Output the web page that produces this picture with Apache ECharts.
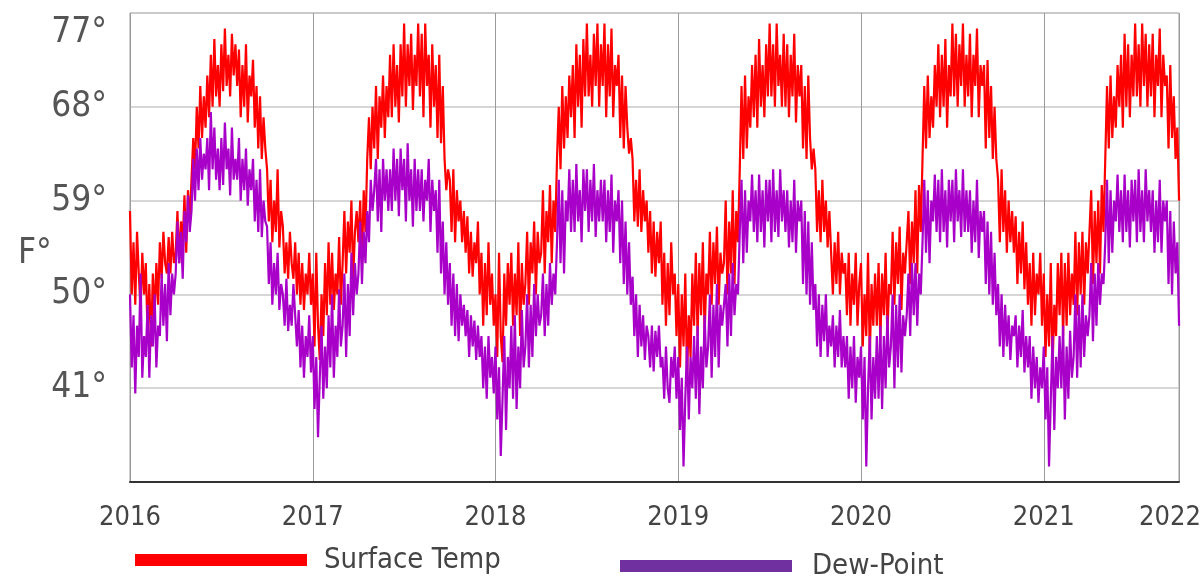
<!DOCTYPE html>
<html>
<head>
<meta charset="utf-8">
<script src="https://cdn.jsdelivr.net/npm/echarts@6/dist/echarts.min.js"></script>
<style>
html,body{margin:0;padding:0;background:#fff;}
#chart{width:1203px;height:579px;}
</style>
</head>
<body>
<div id="chart"></div>
<script>
// Readings (°F) from 2016-01-01, 104 readings per year (about every 3.5 days)
var startYear = 2016;
var perYear = 104;

var surfaceTemp = [
  // 2016
  58,50,55,49,56,52,48.5,54,50,  53,46,51,45,52,48,53,49,  55,51.5,56,53,52,55.5,52,56,53,  54,58,53,57,55,59.5,54,60,57,
  61,65,62,68,64,70,65,69,66,  71,67,73,68,74.5,69,72,68,  74,69.5,75.5,70,73,69,75,71,74,  70,73.5,67,72,68,74,66.5,71,69,
  72.5,66,70,64,69,63,67,64,  62,57,61,55,59,56,62,54.5,58,  56.5,52,55,51.5,56,53,51.5,55,  50,54,49,53,48.5,52,50,54,49,
  // 2017
  52,45,54,47,43.7,50,46,53,48,  55,49,54,48.5,52,50,55.5,49,  53,58,52,57,54,59,51.5,56,58,  55,59,53,60,56,63,67,62,68,
  64,70,63,69,66,71,65,70,67,  73,67,74,68,72,66.5,74,69,  76,68,74,70,75,67.7,73,70,76,  69,75,67,76,70,73,66,74,68,
  72,65,73,64.5,70,63,60,62,  61,56,62,55,60,57,59,55,58,  54,57.5,52,56,51.7,55,53,57,  50,54,47,53,48,55,49,52,47,
  // 2018
  50,44,54,46,43.5,52,47,53,49,  54,47,52,48,55,46,53,49,  51,56,49,55,52,57,50,56,53,  54,60,52,58,55,60.5,53,59,56,
  63,68,62,70,64,69,65,71,67,  72,65,74,68,73,66,74.5,69,  76,69,73,68,75,70,76,68,74,  70,76,67,74,69,75.5,67,72,70,
  73,65,71,64,70,66,63.5,65,  63,57,61,56.5,62,56,60,57,59,  54,58,52,57,51.7,56,53,57,  49,54,47,53,48,55,50,52,46,
  // 2019
  51,43,50,45,52,42,48,44,52,  47,54,46,53,48,55,46,52,  50,56,49,55,51,56.5,49,54,52,  53,59,50,57,52,60,51,58,55,
  62,70,63,71,64,69,66,72,67,  73,66,74.5,68,72,67,74,69,  76,69,74,68,76,70,73,68,75,  68,74,67,73,69,75,66.5,72,69,
  72,64,70,63,71,65,62,64,  62,56,60,55,61,56,59,54.5,58,  54,50,55,51,56,50,54,52,  53,48,54,47,52,49,54,47,51,
  // 2020
  53,45,50,46,54,44,51,47,52,  47,53,45.5,52,48,54,46,51,  50,56,49,55,51,56.5,48.5,54,52,  52,58,51,57,53,60,52,60.5,56,
  63,70,64,71,65,69,66,72,68,  74,67,73,68,74.5,66,72,69,  76,69,75,68,74,70,76,68,73,  69,75,67,73,70,75.5,67,72,70,
  72,64,72.5,65,70,63,68,63,  61,55,62,56,60,54,59,55,58,  54,57.5,51,56,52,57,50.5,55,  49,53,47,54,48,52,50,54,47,
  // 2021 (to end of September)
  52,44,50,45,53,43,49,46,53,  48,54,46,53,47,54,48,52,  49,56,48,55,50,56,49,55,52,  52,60,51,58,53,59,52,60.5,56,
  63,70,64,71,65,69,66,72,68,  73,66,75,68,74,67,73,69,  76,69,74,68,76,70,75,68,74,  69,75,67,73,70,75.5,67,73,70,
  71,64,72,65,69,63,66,59
];

var dewPoint = [
  // 2016
  50,43,48,40.5,47,44,52,42,46,  44,49,42,48,45,50,43,47,  46,52,47,51,45.5,53,48,52,50,  52,57,53,56,51.5,58,55,59.5,56,
  58,63,59,64,60,65,61,63.5,62,  65,60,67.5,62,66,61,64,60,  65,60.5,66.5,62,64,59.5,66,61,63,  61,65,59,63,60,64,58.5,62,60,
  63,57,61,56,62,55.5,59,57,  56.5,51,55,49,53,50,54,48.5,51,  50,47,51.5,46.5,49,47,51,48,  45,48.5,43,47,42,46,44,48,42.5,
  // 2017
  46,39,44,36.3,42,47,40,45,41,  48,43,50,42,47,44,50.5,45,  47,52,44,51,46,54,48,53,50,  52,57,51,56,53,58,55,61,58,
  60,63,57,62,56,63,59,62,58,  62,58,64,59,63,57.5,64,60,  63,57,64.5,59,62,56.5,63,58,62,  58,62,57,61,59,63,56,61,58,
  60,54,61,52,57,50,55,49,  53,47,52,46,51,45.5,50,47,49,  46,48.5,44,48,45,47.5,43.7,47,  44,46,41,45,40,46,42,44,40.5,
  // 2018
  45,38,43,34.5,40,46,37,44,41,  47,40,48,39,45,41,48.5,43,  45,50,43,49,44,51,46,50,47,  48,52,46,51,47,53,49,52,50,
  55,61,53,60,52,59,57,62,56,  61,56,62.5,57,60,55,62,58,  62,56,61,57,62.5,55.5,60,57,61,  57,61,55,60,56,61.5,54,59,57,
  60,53,59,51,57,50,55,49,  51.7,46,50,44,49,45,48,43.7,47,  46,43,47,42.6,46.5,44,47,43,  44,40,45,41,39.6,44,42,45,40,
  // 2019
  44,37,42,33.5,40,45,38,44,41,  46,40,47,38.5,45,41,48,43,  45,50,42,49,44,51,43,49,47,  47,51,45,52,46,53,48,51,50,
  56,61,53,60,54,59,57,61.5,56,  60,55,61.5,56,60,54.5,61,57,  61,55,62,56,60,55.5,62,57,60,  56,60,54.5,59,55,61,54,59,57,
  59,51,58,50,57,49,55,48.5,  51,45,50,44,49,45.5,50,44,47,  45,48,43,47,44,48.5,43,46,  43,46,40,45,41,46,39.6,44,42,
  // 2020
  45,38,44,33.5,41,46,38,44,40,  46,40,47,39,46,41,48,43,  45,50,41,49,43,50,42.5,48,46,  48,52,46,53,48,53,47,52,50,
  55,61,54,60,53,59,57,61.5,56,  61,55,62,56,60,54.5,61,57,  61,55,62,57,60,55.5,62,56,60,  56,60,54,59,55,61,53.5,58,56,
  58,51,57,50,56,49,54,48,  51,45,50,44,49,45,48,43.7,47,  46,48,43,47,44,48.5,42.5,46,  43,46,40,45,41,44,39.6,43,41,
  // 2021 (to end of September)
  45,38,43,33.5,40,46,37,44,41,  46,41,47,38,45,40,46.5,42,  44,50,42,49,43,50,44,48,46,  48,53,45.5,52,47,53,49,52,51,
  55,61,53,60,54,59,57,61.5,56,  60,55,61.5,56,60,54.5,61,57,  61,55,62,56,60,55,62,57,60,  56,60,54,59,55,61,54,59,57,
  59,51,58,50,57,52,55,47
];

var yTicks = [32, 41, 50, 59, 68, 77];
var xStart = 2016, xEnd = 2021.74, lastLabel = '2022';
var seriesNames = ['Surface Temp', 'Dew-Point'];

function toPairs(arr) {
  return arr.map(function (v, i) { return [startYear + i / perYear, v]; });
}

var FONT = '"DejaVu Sans Condensed", "Liberation Sans Narrow", sans-serif';

var chart = echarts.init(document.getElementById('chart'), null, {renderer: 'canvas'});
chart.setOption({
  animation: false,
  backgroundColor: '#ffffff',
  grid: {left: 130, right: 24, top: 13, bottom: 97, show: true, borderColor: '#9a9a9a', borderWidth: 1,
         containLabel: false, outerBoundsMode: 'none'},
  xAxis: {
    type: 'value', min: xStart, max: xEnd, interval: 1,
    axisLine: {show: true, lineStyle: {color: '#333', width: 2}},
    axisTick: {show: false},
    splitLine: {show: true, lineStyle: {color: '#9a9a9a', width: 1}},
    axisLabel: {
      margin: 22, fontSize: 27, color: '#444', fontFamily: FONT,
      showMinLabel: true, showMaxLabel: true,
      formatter: function (v) { return v > 2021.5 ? '{last|' + lastLabel + '}' : String(Math.round(v)); },
      rich: {last: {fontSize: 27, color: '#444', fontFamily: FONT, padding: [0, 18, 0, 0]}}
    }
  },
  yAxis: {
    type: 'value', min: yTicks[0], max: yTicks[yTicks.length - 1], interval: 9,
    axisLine: {show: false}, axisTick: {show: false},
    splitLine: {show: true, lineStyle: {color: '#c8c8c8', width: 1.5}},
    axisLabel: {
      margin: 23, fontSize: 35, color: '#555', fontFamily: FONT,
      formatter: function (v) {
        if (v === yTicks[0]) return '';
        if (v === yTicks[yTicks.length - 1]) return '{top|' + v + '°}';
        return v + '°';
      },
      rich: {top: {fontSize: 35, color: '#555', fontFamily: FONT, padding: [40, 0, 0, 0]}}
    }
  },
  legend: [
    {
      left: 130, top: 537, icon: 'rect', itemWidth: 172, itemHeight: 12,
      data: [{name: seriesNames[0], itemStyle: {color: '#ff0000'}}],
      textStyle: {fontSize: 29, color: '#444', fontFamily: FONT, lineHeight: 36, padding: [0, 0, 0, 12]}
    },
    {
      left: 615, top: 543, icon: 'rect', itemWidth: 172, itemHeight: 12,
      data: [{name: seriesNames[1], itemStyle: {color: '#7030a0'}}],
      textStyle: {fontSize: 29, color: '#444', fontFamily: FONT, lineHeight: 36, padding: [0, 0, 0, 15]}
    }
  ],
  graphic: [
    {type: 'text', left: 18, top: 236, style: {text: 'F°', fill: '#555', font: '35px ' + FONT}}
  ],
  series: [
    {
      name: seriesNames[0], type: 'line', data: toPairs(surfaceTemp),
      showSymbol: false, lineStyle: {color: '#ff0000', width: 2.2}, itemStyle: {color: '#ff0000'}
    },
    {
      name: seriesNames[1], type: 'line', data: toPairs(dewPoint),
      showSymbol: false, lineStyle: {color: '#a800c8', width: 2.2}, itemStyle: {color: '#a800c8'}
    }
  ]
});
</script>
</body>
</html>
